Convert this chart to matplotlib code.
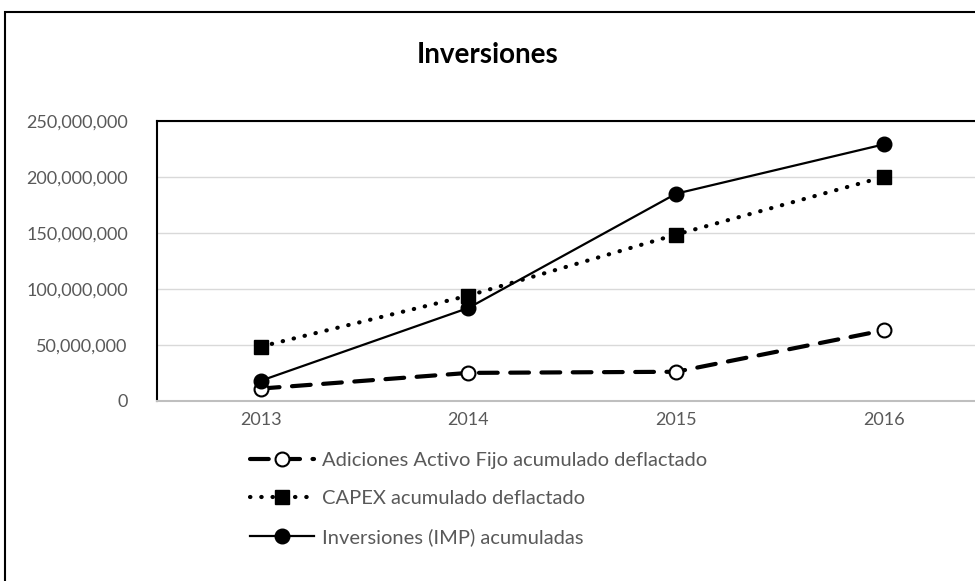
import numpy as np
import matplotlib.pyplot as plt
import matplotlib.patches as patches
from matplotlib.ticker import FuncFormatter

plt.rcParams['font.family'] = ['Lato', 'DejaVu Sans']

anios = ['2013', '2014', '2015', '2016']
adiciones = [11e6, 25e6, 26e6, 63e6]
capex = [48.5e6, 94e6, 148.5e6, 200e6]
inversiones = [18e6, 83e6, 185e6, 229e6]

fig = plt.figure(figsize=(9.75, 5.81), dpi=100)
ax = fig.add_axes([0.161, 0.310, 0.852, 0.482])

x = np.arange(len(anios))
ax.plot(x, adiciones, color='black', lw=3, dashes=(4.5, 3), dash_capstyle='round',
        marker='o', ms=10, mfc='white', mec='black', mew=1.5,
        label='Adiciones Activo Fijo acumulado deflactado')
ax.plot(x, capex, color='black', lw=3, dashes=(0.1, 2.6), dash_capstyle='round',
        marker='s', ms=10, mfc='black', mec='black',
        label='CAPEX acumulado deflactado')
ax.plot(x, inversiones, color='black', lw=1.6, marker='o', ms=10.5,
        mfc='black', mec='black', label='Inversiones (IMP) acumuladas')

ax.set_xlim(-0.5, 3.5)
ax.set_ylim(0, 250e6)
ax.set_yticks(np.arange(0, 250e6 + 1, 50e6))
ax.set_xticks(x)
ax.set_xticklabels(anios)
ax.yaxis.set_major_formatter(FuncFormatter(lambda v, p: f'{v:,.0f}'))
ax.tick_params(length=0, labelsize=13, colors='#595959', pad=8)
ax.tick_params(axis='y', pad=21)
ax.grid(axis='y', color='#d9d9d9', lw=1)
ax.set_axisbelow(True)
for s in ['top', 'left', 'right']:
    ax.spines[s].set_color('black')
    ax.spines[s].set_linewidth(1.5)
ax.spines['bottom'].set_color('#bfbfbf')
ax.spines['bottom'].set_linewidth(1.5)

fig.text(0.5, 0.905, 'Inversiones', ha='center', va='center',
         fontsize=20, fontweight='bold')

ax.legend(loc='upper left', bbox_to_anchor=(250 / 975, 1 - 452 / 581),
          bbox_transform=fig.transFigure, frameon=False, fontsize=14.5,
          handlelength=3.2, labelspacing=1.05, handletextpad=0.4,
          borderaxespad=0, borderpad=0, labelcolor='#595959')

fig.add_artist(patches.Rectangle((5 / 975, -0.1), 1.1, 1.1 - 12 / 581,
                                 transform=fig.transFigure, fill=False,
                                 ec='black', lw=1.5, clip_on=False))

fig.savefig('out.png', dpi=100)
